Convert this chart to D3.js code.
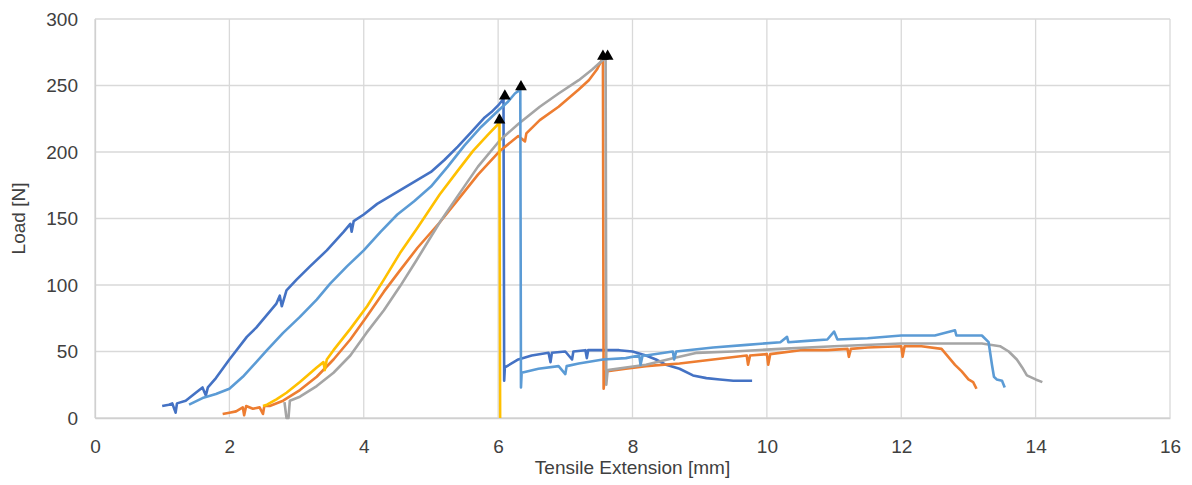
<!DOCTYPE html>
<html>
<head>
<meta charset="utf-8">
<script src="https://cdn.jsdelivr.net/npm/d3@7"></script>
<style>
  body { margin: 0; background: #fff; }
  #chart { width: 1192px; height: 485px; }
  text { font-family: "Liberation Sans", Arial, sans-serif; }
</style>
</head>
<body>
<div id="chart"></div>
<script>
// 坐标轴刻度
const xTicks = [0, 2, 4, 6, 8, 10, 12, 14, 16];
const yTicks = [0, 50, 100, 150, 200, 250, 300];

// 各试样曲线 [伸长 mm, 载荷 N]
const darkBlue = [[1.0,9],[1.1,10],[1.15,11],[1.2,4],[1.22,11],[1.35,13],[1.5,19],[1.6,23],[1.65,17],[1.68,23],[1.8,30],[2.0,44],[2.26,61],[2.4,68],[2.5,74],[2.7,86],[2.75,92],[2.78,84],[2.85,96],[3.0,104],[3.2,114],[3.45,126],[3.7,140],[3.8,146],[3.82,140],[3.85,148],[4.0,153],[4.2,161],[4.5,170],[4.8,179],[5.0,185],[5.2,194],[5.4,204],[5.6,215],[5.8,226],[5.9,230],[6.0,235],[6.08,240],[6.09,28],[6.1,38],[6.3,44],[6.5,47],[6.75,49],[6.78,42],[6.8,49],[7.0,50],[7.1,44],[7.12,50],[7.3,51],[7.32,45],[7.34,51],[7.56,51],[7.8,51],[8.0,50],[8.2,47],[8.35,44],[8.5,40],[8.7,37],[8.9,32],[9.1,30],[9.3,29],[9.5,28],[9.78,28]];
const orange = [[1.9,3],[2.0,4],[2.1,5],[2.2,8],[2.22,2],[2.25,9],[2.35,7],[2.45,8],[2.5,3],[2.52,9],[2.6,9],[2.8,13],[3.05,21],[3.3,31],[3.55,44],[3.8,59],[4.04,76],[4.3,95],[4.54,111],[4.8,128],[5.13,147],[5.4,164],[5.7,183],[6.03,201],[6.3,212],[6.4,208],[6.42,214],[6.62,224],[6.9,234],[7.2,247],[7.35,254],[7.47,262],[7.56,271],[7.57,22],[7.6,35],[7.9,37],[8.2,39],[8.7,41],[9.2,44],[9.7,47],[9.72,40],[9.75,47],[10.0,48],[10.02,40],[10.05,48],[10.5,51],[10.9,51],[11.2,52],[11.22,46],[11.25,52],[11.5,53],[12.0,54],[12.02,46],[12.05,54],[12.3,54],[12.6,52],[12.7,46],[12.8,40],[12.9,35],[13.0,29],[13.07,27],[13.12,22]];
const gray = [[2.82,12],[2.85,0],[2.88,0],[2.9,13],[3.05,16],[3.3,24],[3.55,34],[3.8,47],[4.04,64],[4.3,81],[4.54,99],[4.79,119],[5.13,147],[5.4,167],[5.7,189],[6.03,209],[6.3,221],[6.62,234],[6.9,244],[7.2,254],[7.4,262],[7.6,271],[7.61,25],[7.63,36],[7.9,38],[8.2,40],[8.6,45],[8.96,49],[9.5,50],[10.2,52],[11.0,54],[12.0,56],[12.6,56],[13.2,56],[13.47,54],[13.6,50],[13.72,44],[13.8,38],[13.87,32],[14.0,29],[14.1,27]];
const yellow = [[2.5,9],[2.56,10],[2.7,14],[2.85,19],[3.05,27],[3.3,38],[3.4,42],[3.42,36],[3.45,44],[3.55,51],[3.8,67],[4.05,84],[4.3,104],[4.54,124],[4.8,143],[5.13,168],[5.4,186],[5.63,201],[5.85,213],[6.02,222],[6.03,0]];
const lightBlue = [[1.4,10],[1.6,15],[1.8,18],[2.0,22],[2.2,31],[2.4,42],[2.56,51],[2.8,64],[3.05,76],[3.3,89],[3.5,101],[3.75,114],[4.0,126],[4.25,140],[4.5,153],[4.75,163],[5.0,174],[5.25,189],[5.5,205],[5.75,219],[6.0,231],[6.15,238],[6.25,244],[6.33,247],[6.34,23],[6.35,34],[6.6,37],[6.9,39],[7.0,33],[7.02,39],[7.2,41],[7.56,44],[7.9,45],[8.1,47],[8.12,40],[8.15,47],[8.2,47],[8.6,50],[8.62,44],[8.65,50],[9.2,53],[9.7,55],[10.2,57],[10.3,61],[10.32,57],[10.6,58],[10.9,59],[11.0,65],[11.05,59],[11.5,60],[12.0,62],[12.5,62],[12.8,66],[12.82,62],[13.0,62],[13.2,62],[13.3,57],[13.35,40],[13.38,31],[13.42,29],[13.5,28],[13.54,23]];

// 断裂点标记
const peakX = [6.02, 6.1, 6.34, 7.56, 7.63];
const peakY = [224, 242, 249, 272, 272];

const seriesList = [
  { name: "S1", values: darkBlue, color: "#4472C4" },
  { name: "S2", values: orange, color: "#ED7D31" },
  { name: "S3", values: gray, color: "#A5A5A5" },
  { name: "S4", values: yellow, color: "#FFC000" },
  { name: "S5", values: lightBlue, color: "#5B9BD5" }
];

const width = 1192, height = 485;
const margin = { top: 19, right: 22, bottom: 67, left: 95 };
const innerWidth = width - margin.left - margin.right;
const innerHeight = height - margin.top - margin.bottom;

const svg = d3.select("#chart").append("svg")
  .attr("width", width)
  .attr("height", height);

const g = svg.append("g")
  .attr("transform", `translate(${margin.left},${margin.top})`);

const x = d3.scaleLinear().domain([0, 16]).range([0, innerWidth]);
const y = d3.scaleLinear().domain([0, 300]).range([innerHeight, 0]);

// 网格
g.append("g")
  .selectAll("line")
  .data(yTicks)
  .enter().append("line")
  .attr("x1", 0).attr("x2", innerWidth)
  .attr("y1", d => y(d)).attr("y2", d => y(d))
  .attr("stroke", "#d9d9d9").attr("stroke-width", 1.3);

g.append("g")
  .selectAll("line")
  .data(xTicks)
  .enter().append("line")
  .attr("x1", d => x(d)).attr("x2", d => x(d))
  .attr("y1", 0).attr("y2", innerHeight)
  .attr("stroke", "#d9d9d9").attr("stroke-width", 1.3);

// 坐标轴
const xAxis = g.append("g")
  .attr("transform", `translate(0,${innerHeight})`)
  .attr("font-size", 19)
  .call(d3.axisBottom(x).tickValues(xTicks).tickSize(0).tickPadding(22));
const yAxis = g.append("g")
  .attr("font-size", 19)
  .call(d3.axisLeft(y).tickValues(yTicks).tickSize(0).tickPadding(17));

[xAxis, yAxis].forEach(ax => {
  ax.attr("font-size", 19).attr("font-family", "'Liberation Sans', Arial, sans-serif");
  ax.select(".domain").attr("stroke", "#d0d0d0").attr("stroke-width", 1.3);
  ax.selectAll("text").attr("fill", "#404040");
});

// 曲线
const line = d3.line()
  .x(d => x(d[0]))
  .y(d => y(d[1]));

g.selectAll(".series")
  .data(seriesList)
  .enter().append("path")
  .attr("class", "series")
  .attr("d", d => line(d.values))
  .attr("fill", "none")
  .attr("stroke", d => d.color)
  .attr("stroke-width", 2.6)
  .attr("stroke-linejoin", "round");

// 三角标记
const tri = d3.symbol().type(d3.symbolTriangle).size(60);
g.selectAll(".peak")
  .data(peakX.map((px, i) => [px, peakY[i]]))
  .enter().append("path")
  .attr("class", "peak")
  .attr("d", tri)
  .attr("transform", d => `translate(${x(d[0])},${y(d[1])})`)
  .attr("fill", "#000");

// 轴标题
svg.append("text")
  .attr("x", margin.left + innerWidth / 2)
  .attr("y", 474)
  .attr("text-anchor", "middle")
  .attr("fill", "#404040")
  .style("font-size", "19px")
  .text("Tensile Extension [mm]");

svg.append("text")
  .attr("transform", `translate(25,${margin.top + innerHeight / 2}) rotate(-90)`)
  .attr("text-anchor", "middle")
  .attr("fill", "#404040")
  .style("font-size", "19px")
  .text("Load [N]");
</script>
</body>
</html>
